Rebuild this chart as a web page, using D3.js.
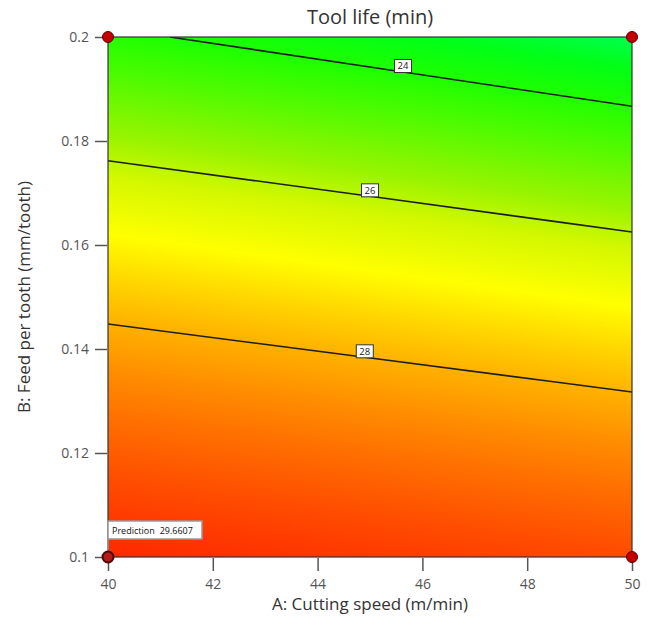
<!DOCTYPE html>
<html>
<head>
<meta charset="utf-8">
<script src="https://cdn.jsdelivr.net/npm/d3@7/dist/d3.min.js"></script>
<style>
  html, body { margin: 0; padding: 0; background: #fff; }
  svg { display: block; font-family: "Open Sans", "Noto Sans", sans-serif; }
</style>
</head>
<body>
<svg id="chart" width="649" height="640"></svg>
<script>
// Factor ranges and ticks
const speedDomain = [40, 50];
const feedDomain = [0.1, 0.2];
const speedTicks = [40, 42, 44, 46, 48, 50];
const feedTicks = [0.1, 0.12, 0.14, 0.16, 0.18, 0.2];
const feedTickLabels = ["0.1", "0.12", "0.14", "0.16", "0.18", "0.2"];

// Tool life contour lines (A: speed, B: feed), label sits at the middle point
const contourLevels = [24, 26, 28];
const contourSpeed = [
  [41.18, 45.63, 50],
  [40, 45.0, 50],
  [40, 44.9, 50]
];
const contourFeed = [
  [0.2, 0.19327, 0.18667],
  [0.17621, 0.16936, 0.1625],
  [0.14481, 0.13840, 0.13173]
];

// Design points at the corners
const designSpeed = [40, 50, 50];
const designFeed = [0.2, 0.2, 0.1];

// Prediction flag
const predSpeed = 40;
const predFeed = 0.1;
const predValue = 29.6607;

// Colour ramp across the response surface (low tool life = green, high = red)
const rampOffsets = [0, 0.05, 0.114, 0.2, 0.289, 0.36, 0.455, 0.53, 0.606, 0.69, 0.764, 0.87, 0.97, 1];
const rampColors = ["#00ff50", "#00ff18", "#1eff00", "#58fa00", "#98f400", "#d4f800", "#ffff00",
                    "#ffd600", "#ffb000", "#ff8c00", "#ff7000", "#ff4c00", "#ff3000", "#ff2800"];

const svg = d3.select("#chart");
const plotLeft = 108, plotRight = 632, plotTop = 37, plotBottom = 557;

const x = d3.scaleLinear().domain(speedDomain).range([plotLeft, plotRight]);
const y = d3.scaleLinear().domain(feedDomain).range([plotBottom, plotTop]);

// Gradient axis runs perpendicular to the contour direction
const slopes = contourSpeed.map((s, i) => {
  const n = s.length - 1;
  return (y(contourFeed[i][n]) - y(contourFeed[i][0])) / (x(s[n]) - x(s[0]));
});
const k = d3.mean(slopes);
const cx = (plotLeft + plotRight) / 2, cy = (plotTop + plotBottom) / 2;
const norm = Math.sqrt(1 + k * k);
const ux = -k / norm, uy = 1 / norm;
const corners = [[plotLeft, plotTop], [plotRight, plotTop], [plotLeft, plotBottom], [plotRight, plotBottom]];
const L = d3.max(corners, c => Math.abs((c[0] - cx) * ux + (c[1] - cy) * uy));

const defs = svg.append("defs");
const grad = defs.append("linearGradient")
  .attr("id", "surface")
  .attr("gradientUnits", "userSpaceOnUse")
  .attr("x1", cx - ux * L).attr("y1", cy - uy * L)
  .attr("x2", cx + ux * L).attr("y2", cy + uy * L);
grad.selectAll("stop").data(rampOffsets).join("stop")
  .attr("offset", d => d)
  .attr("stop-color", (d, i) => rampColors[i]);

defs.append("clipPath").attr("id", "plotClip")
  .append("rect").attr("x", plotLeft).attr("y", plotTop)
  .attr("width", plotRight - plotLeft).attr("height", plotBottom - plotTop);

// Surface fill
svg.append("rect")
  .attr("x", plotLeft).attr("y", plotTop)
  .attr("width", plotRight - plotLeft).attr("height", plotBottom - plotTop)
  .attr("fill", "url(#surface)");

// Contour lines
const line = d3.line().x(d => x(d[0])).y(d => y(d[1])).curve(d3.curveMonotoneX);
const contourG = svg.append("g").attr("clip-path", "url(#plotClip)");
contourLevels.forEach((lev, i) => {
  const pts = contourSpeed[i].map((s, j) => [s, contourFeed[i][j]]);
  contourG.append("path")
    .attr("d", line(pts))
    .attr("fill", "none")
    .attr("stroke", "#1e1e1e")
    .attr("stroke-width", 1.6);
});

// Contour labels
contourLevels.forEach((lev, i) => {
  const lx = x(contourSpeed[i][1]);
  const ly = y(contourFeed[i][1]) - 6;
  const g = svg.append("g").attr("transform", `translate(${lx},${ly})`);
  g.append("rect")
    .attr("x", -8.5).attr("y", -6.5).attr("width", 17).attr("height", 13)
    .attr("fill", "#fff").attr("stroke", "#333").attr("stroke-width", 1);
  g.append("text")
    .attr("text-anchor", "middle").attr("dy", "0.35em")
    .attr("font-size", 9.5).attr("fill", "#222")
    .text(lev);
});

// Plot frame
svg.append("rect")
  .attr("x", plotLeft).attr("y", plotTop)
  .attr("width", plotRight - plotLeft).attr("height", plotBottom - plotTop)
  .attr("fill", "none").attr("stroke", "#333").attr("stroke-width", 1.2);

// Axes
const xAxis = d3.axisBottom(x).tickValues(speedTicks).tickSize(13).tickPadding(8).tickFormat(d3.format("d"));
const gx = svg.append("g").attr("transform", `translate(0,${plotBottom + 1})`).call(xAxis);
gx.select(".domain").remove();
gx.selectAll(".tick line").attr("stroke", "#555").attr("stroke-width", 1.5);
gx.selectAll(".tick text").attr("font-size", 14).attr("fill", "#555")
  .attr("font-family", "'Open Sans', sans-serif");

const yAxis = d3.axisLeft(y).tickValues(feedTicks).tickSize(12).tickPadding(6)
  .tickFormat((d, i) => feedTickLabels[i]);
const gy = svg.append("g").attr("transform", `translate(${plotLeft - 1},0)`).call(yAxis);
gy.select(".domain").remove();
gy.selectAll(".tick line").attr("stroke", "#555").attr("stroke-width", 1.5);
gy.selectAll(".tick text").attr("font-size", 14).attr("fill", "#555")
  .attr("font-family", "'Open Sans', sans-serif");

// Prediction flag
const px = x(predSpeed), py = y(predFeed);
svg.append("line")
  .attr("x1", px).attr("x2", px).attr("y1", py).attr("y2", py - 18)
  .attr("stroke", "#999").attr("stroke-width", 1.5);
const flag = svg.append("g").attr("transform", `translate(${px},${py - 36})`);
flag.append("rect")
  .attr("x", 0).attr("y", 0).attr("width", 94).attr("height", 18)
  .attr("fill", "#fff").attr("stroke", "#999").attr("stroke-width", 1.5);
const ft = flag.append("text").attr("x", 4).attr("y", 12.5)
  .attr("font-size", 9).attr("fill", "#111")
  .attr("font-family", "'Open Sans', sans-serif");
ft.append("tspan").text("Prediction");
ft.append("tspan").attr("dx", 5).text(predValue.toFixed(4));

// Design points
svg.append("g").selectAll("circle")
  .data(designSpeed.map((s, i) => [s, designFeed[i]]))
  .join("circle")
  .attr("cx", d => x(d[0])).attr("cy", d => y(d[1]))
  .attr("r", 5.5)
  .attr("fill", "#c40000").attr("stroke", "#5a0000").attr("stroke-width", 1);

svg.append("circle")
  .attr("cx", px).attr("cy", py).attr("r", 5.5)
  .attr("fill", "#b51a1a").attr("stroke", "#4a0808").attr("stroke-width", 2);

// Titles
svg.append("text")
  .attr("x", cx).attr("y", 24)
  .attr("text-anchor", "middle").attr("font-size", 20).attr("fill", "#333")
  .text("Tool life (min)");

svg.append("text")
  .attr("x", cx).attr("y", 610)
  .attr("text-anchor", "middle").attr("font-size", 17).attr("fill", "#333")
  .text("A: Cutting speed (m/min)");

svg.append("text")
  .attr("transform", `translate(30,${cy}) rotate(-90)`)
  .attr("text-anchor", "middle").attr("font-size", 17).attr("fill", "#333")
  .text("B: Feed per tooth (mm/tooth)");
</script>
</body>
</html>
